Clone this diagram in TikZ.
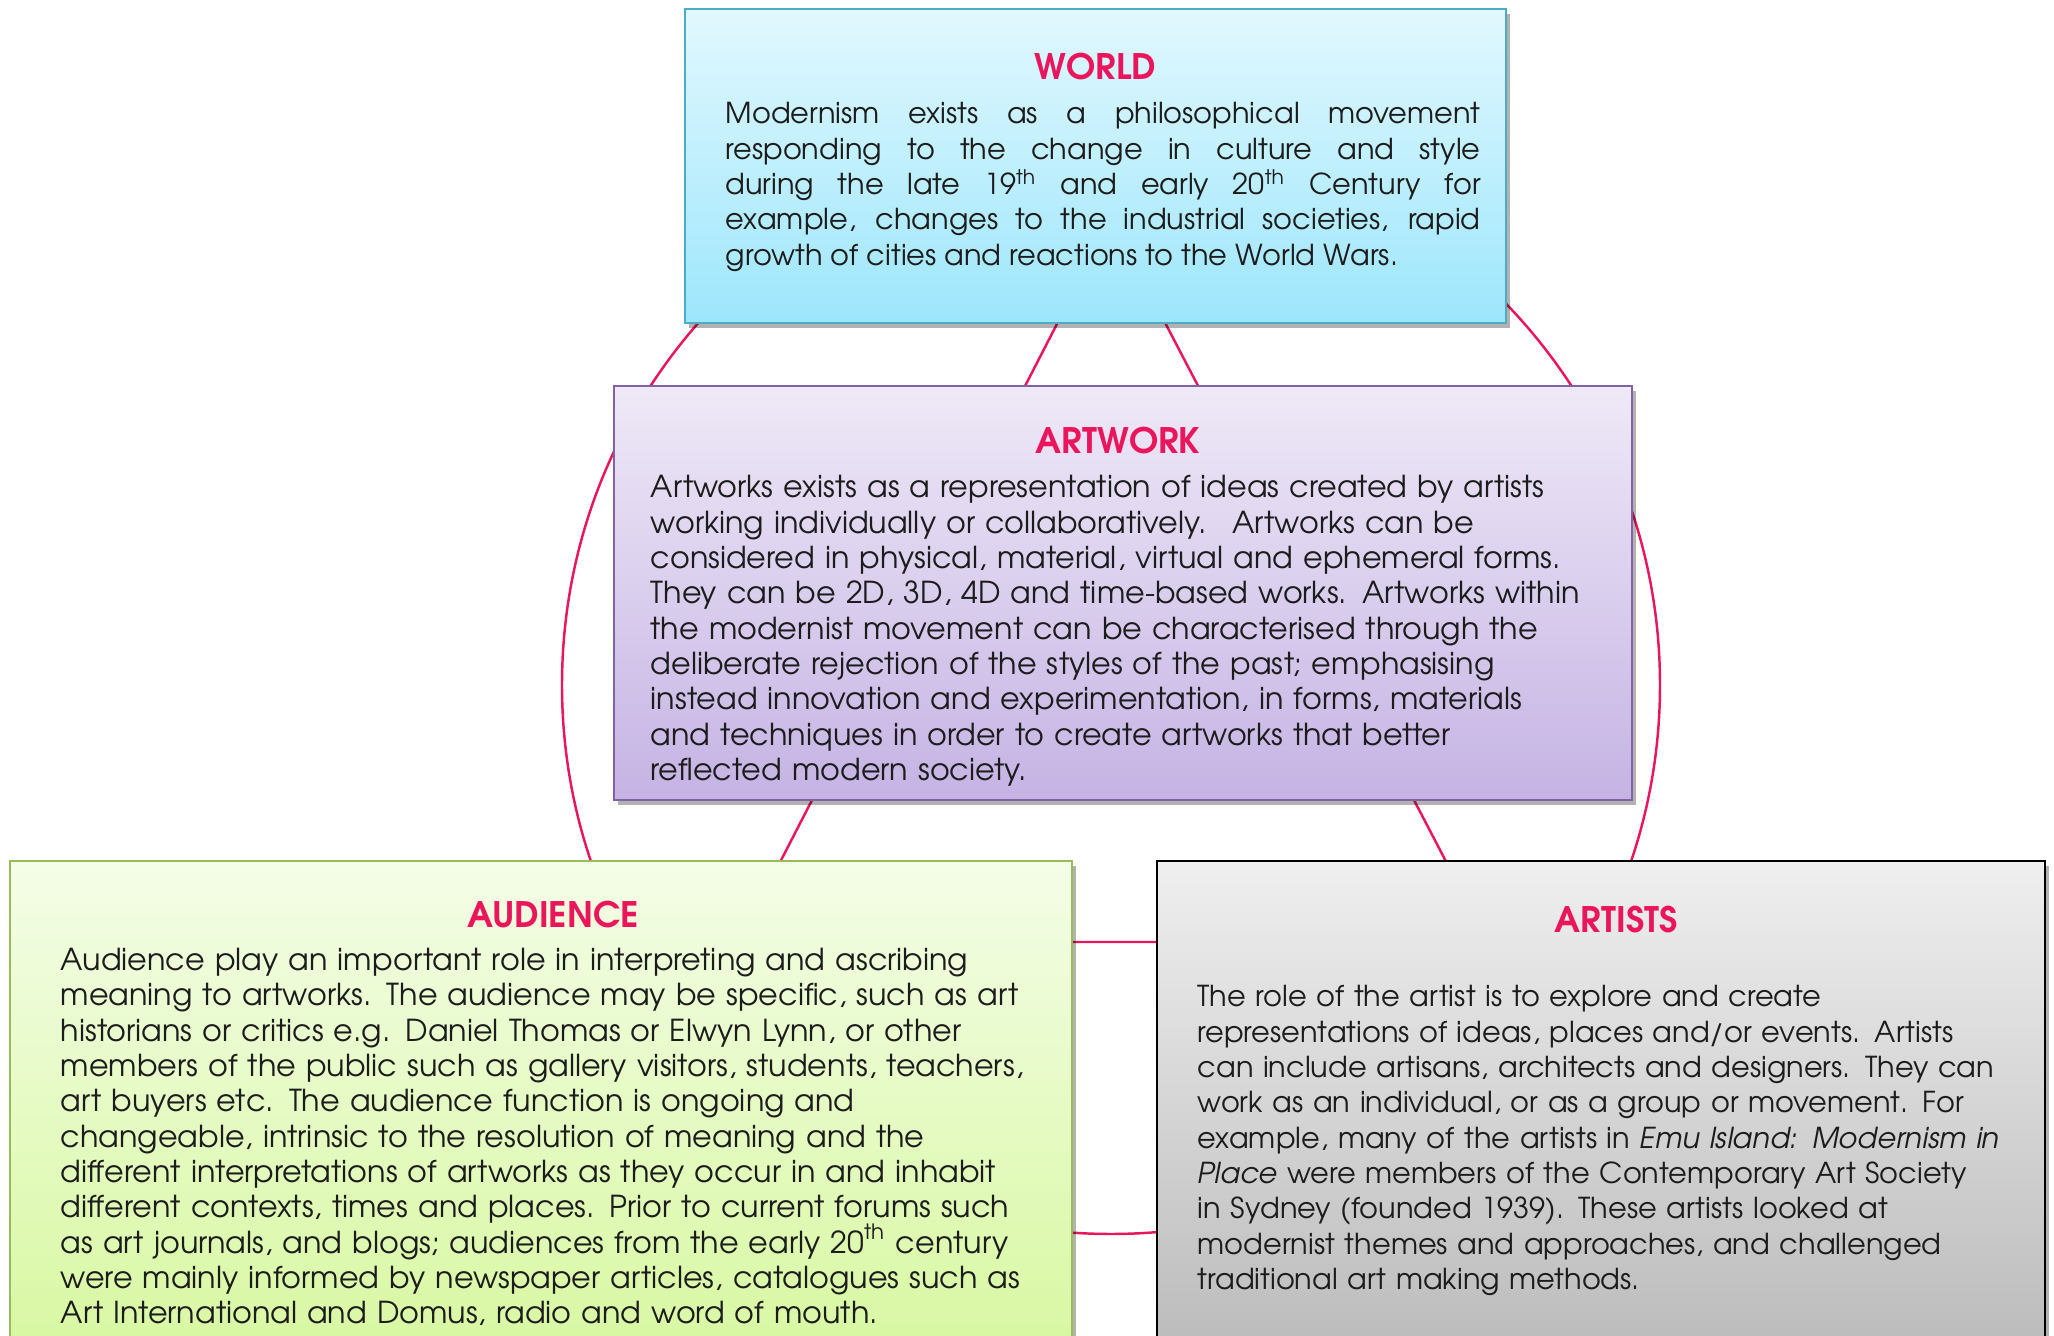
\documentclass[tikz,border=0pt]{standalone}
\usepackage{fontspec}
\setmainfont{TeX Gyre Adventor}
\usepackage{xcolor}
\usepackage{tikz}
\usetikzlibrary{shadows}
\definecolor{crimson}{RGB}{234,22,92}
\definecolor{inkgray}{RGB}{28,28,28}
\definecolor{worldtop}{RGB}{226,248,254}
\definecolor{worldbot}{RGB}{157,230,252}
\definecolor{worldrim}{RGB}{75,172,198}
\definecolor{worktop}{RGB}{239,233,247}
\definecolor{workbot}{RGB}{197,179,228}
\definecolor{workrim}{RGB}{128,100,162}
\definecolor{audtop}{RGB}{244,253,231}
\definecolor{audbot}{RGB}{212,247,152}
\definecolor{audrim}{RGB}{155,187,89}
\definecolor{arttop}{RGB}{239,239,239}
\definecolor{artbot}{RGB}{180,180,180}

\begin{document}
\begin{tikzpicture}[
  link/.style={draw=crimson, line width=0.7pt},
  panel/.style={draw, line width=0.6pt, inner sep=0pt, drop shadow={shadow xshift=0.04cm, shadow yshift=-0.05cm, opacity=0.3, fill=black}},
  heading/.style={anchor=base, text=crimson, inner sep=0pt, font=\fontsize{10}{12}\selectfont\bfseries},
  blurb/.style={anchor=base west, text=inkgray, inner sep=0pt, font=\fontsize{8.2}{10.05}\selectfont},
  wideblurb/.style={blurb, font=\fontsize{8.6}{10.05}\selectfont}
]
\useasboundingbox (0, 0) rectangle (20.54, 13.36);
\clip (0, 0) rectangle (20.54, 13.36);
\coordinate (hub) at (11.11, 6.51);
\coordinate (apex) at (11.11, 11.17);
\coordinate (baseL) at (7.39, 3.94);
\coordinate (baseR) at (14.88, 3.94);
\draw [link] (hub) circle (5.49);
\draw [link] (apex) -- (baseL) -- (baseR) -- cycle;
\node [panel, draw=worldrim, top color=worldtop, bottom color=worldbot, minimum width=8.21cm, minimum height=3.14cm] (world) at (10.955, 11.70) {};
\node [panel, draw=workrim, top color=worktop, bottom color=workbot, minimum width=10.18cm, minimum height=4.14cm] (artwork) at (11.23, 7.43) {};
\node [panel, draw=audrim, top color=audtop, bottom color=audbot, minimum width=10.62cm, minimum height=5.59cm] (audience) at (5.41, 1.955) {};
\node [panel, draw=black, top color=arttop, bottom color=artbot, minimum width=8.88cm, minimum height=5.59cm] (artists) at (16.01, 1.955) {};
\node [heading] (worldhead) at (10.955, 12.56) {WORLD};
\node [heading] (artworkhead) at (11.18, 8.82) {ARTWORK};
\node [heading] (audiencehead) at (5.53, 4.08) {AUDIENCE};
\node [heading] (artistshead) at (16.16, 4.03) {ARTISTS};
\node [blurb, text width=7.55cm, align=justify] (worldtext) at (7.25, 12.12) {Modernism exists as a philosophical movement\linebreak
responding to the change in culture and style\linebreak
during the late 19\textsuperscript{th} and early 20\textsuperscript{th} Century for\linebreak
example, changes to the industrial societies, rapid\linebreak
growth of cities and reactions to the World Wars.};
\node [wideblurb, text width=9.7cm, align=left] (artworktext) at (6.50, 8.38) {Artworks exists as a representation of ideas created by artists\\
working individually or collaboratively.~ Artworks can be\\
considered in physical, material, virtual and ephemeral forms.\\
They can be 2D, 3D, 4D and time-based works. Artworks within\\
the modernist movement can be characterised through the\\
deliberate rejection of the styles of the past; emphasising\\
instead innovation and experimentation, in forms, materials\\
and techniques in order to create artworks that better\\
reflected modern society.};
\node [wideblurb, text width=10.3cm, align=left] (audiencetext) at (0.60, 3.655) {Audience play an important role in interpreting and ascribing\\
meaning to artworks. The audience may be specific, such as art\\
historians or critics e.g. Daniel Thomas or Elwyn Lynn, or other\\
members of the public such as gallery visitors, students, teachers,\\
art buyers etc. The audience function is ongoing and\\
changeable, intrinsic to the resolution of meaning and the\\
different interpretations of artworks as they occur in and inhabit\\
different contexts, times and places. Prior to current forums such\\
as art journals, and blogs; audiences from the early 20\textsuperscript{th} century\\
were mainly informed by newspaper articles, catalogues such as\\
Art International and Domus, radio and word of mouth.};
\node [blurb, text width=8.5cm, align=left] (artiststext) at (11.97, 3.29) {The role of the artist is to explore and create\\
representations of ideas, places and/or events. Artists\\
can include artisans, architects and designers. They can\\
work as an individual, or as a group or movement. For\\
example, many of the artists in \textit{Emu Island: Modernism in}\\
\textit{Place} were members of the Contemporary Art Society\\
in Sydney (founded 1939). These artists looked at\\
modernist themes and approaches, and challenged\\
traditional art making methods.};
\end{tikzpicture}
\end{document}
